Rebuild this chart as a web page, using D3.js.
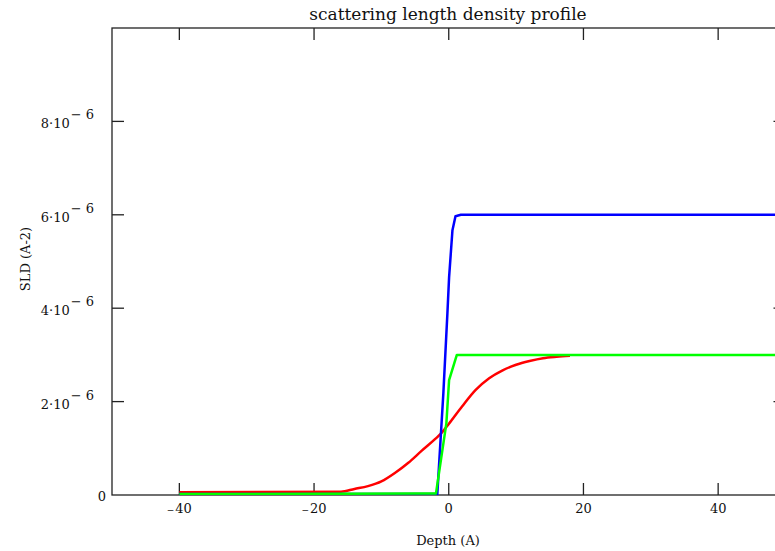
<!DOCTYPE html>
<html><head><meta charset="utf-8">
<script src="https://cdn.jsdelivr.net/npm/d3@7"></script>
<style>body{margin:0;background:#fff}svg{display:block}</style>
</head><body>
<svg id="c" width="775" height="551"></svg>
<script>
const title = "scattering length density profile";
const xLabel = "Depth (A)";
const yLabel = "SLD (A-2)";
const xTicks = [-40, -20, 0, 20, 40];
const yTicks = [0, 2e-6, 4e-6, 6e-6, 8e-6];
const yTickMant = ["0", "2", "4", "6", "8"];

const redDepth = [-40, -16, -14, -12, -10, -8, -6, -4, -2, -1, 0, 2, 4, 6, 8, 10, 12, 14, 16, 18];
const redSLD   = [0.06e-6, 0.07e-6, 0.13e-6, 0.19e-6, 0.29e-6, 0.47e-6, 0.69e-6, 0.95e-6, 1.2e-6, 1.34e-6, 1.52e-6, 1.9e-6, 2.25e-6, 2.5e-6, 2.67e-6, 2.79e-6, 2.87e-6, 2.93e-6, 2.96e-6, 2.98e-6];

const blueDepth = [-40, -1.7, -0.8, -0.2, 0.05, 0.55, 1.0, 1.8, 50];
const blueSLD   = [0.02e-6, 0.02e-6, 2.18e-6, 3.89e-6, 4.66e-6, 5.67e-6, 5.97e-6, 6.0e-6, 6.0e-6];

const greenDepth = [-40, -5, -1.9, -0.35, 0.05, 1.2, 50];
const greenSLD   = [0.02e-6, 0.03e-6, 0.03e-6, 1.54e-6, 2.46e-6, 3.0e-6, 3.0e-6];

const svg = d3.select("#c");
const L = 112, R = 785.5, T = 28, B = 495;
const x = d3.scaleLinear().domain([-50, 50]).range([L, R]);
const y = d3.scaleLinear().domain([0, 1e-5]).range([B, T]);
const font = "'DejaVu Serif', 'Liberation Serif', serif";

const g = svg.append("g");
g.append("rect").attr("x", L).attr("y", T).attr("width", R - L).attr("height", B - T)
  .attr("fill", "none").attr("stroke", "#222").attr("stroke-width", 1.3);

const tl = 12;
xTicks.forEach(v => {
  g.append("line").attr("x1", x(v)).attr("x2", x(v)).attr("y1", B).attr("y2", B - tl).attr("stroke", "#222").attr("stroke-width", 1.3);
  g.append("line").attr("x1", x(v)).attr("x2", x(v)).attr("y1", T).attr("y2", T + tl).attr("stroke", "#222").attr("stroke-width", 1.3);
});
yTicks.forEach(v => {
  if (v === 0) return;
  g.append("line").attr("x1", L).attr("x2", L + tl).attr("y1", y(v)).attr("y2", y(v)).attr("stroke", "#222").attr("stroke-width", 1.3);
  g.append("line").attr("x1", R).attr("x2", R - tl).attr("y1", y(v)).attr("y2", y(v)).attr("stroke", "#222").attr("stroke-width", 1.3);
});

xTicks.forEach(v => {
  const t = g.append("text").attr("x", x(v)).attr("y", B + 18).attr("text-anchor", "middle")
    .attr("font-family", font).attr("font-size", 13).attr("fill", "#111");
  if (v < 0) {
    t.append("tspan").text("\u2212").attr("font-size", 9);
    t.append("tspan").text(String(Math.abs(v))).attr("dx", 1);
  } else t.text(String(v));
});

yTicks.forEach((v, i) => {
  if (v === 0) {
    g.append("text").attr("x", 106).attr("y", y(v) + 6).attr("text-anchor", "end")
      .attr("font-family", font).attr("font-size", 13).attr("fill", "#111").text("0");
    return;
  }
  const t = g.append("text").attr("x", 94).attr("y", y(v) + 7).attr("text-anchor", "end")
    .attr("font-family", font).attr("font-size", 13).attr("fill", "#111");
  t.append("tspan").text(yTickMant[i] + "\u00b710");
  t.append("tspan").text("\u2212 6").attr("dy", -9).attr("font-size", 13).attr("dx", 1);
});

svg.append("clipPath").attr("id", "clip").append("rect").attr("x", L).attr("y", T).attr("width", R - L).attr("height", B - T);
const series = [
  {d: redDepth, v: redSLD, c: "#ff0000", curve: d3.curveMonotoneX},
  {d: blueDepth, v: blueSLD, c: "#0000ff", curve: d3.curveLinear},
  {d: greenDepth, v: greenSLD, c: "#00ff00", curve: d3.curveLinear}
];
series.forEach(s => {
  svg.append("path").datum(s.d.map((d, i) => [d, s.v[i]]))
    .attr("d", d3.line().x(p => x(p[0])).y(p => y(p[1])).curve(s.curve))
    .attr("fill", "none").attr("stroke", s.c).attr("stroke-width", 2.5)
    .attr("stroke-linejoin", "round").attr("clip-path", "url(#clip)");
});

svg.append("text").attr("x", 448).attr("y", 20).attr("text-anchor", "middle")
  .attr("font-family", font).attr("font-size", 17).attr("fill", "#111").text(title);
svg.append("text").attr("x", 448).attr("y", 545).attr("text-anchor", "middle")
  .attr("font-family", font).attr("font-size", 13).attr("fill", "#111").text(xLabel);
svg.append("text").attr("transform", "translate(30,259) rotate(-90)").attr("text-anchor", "middle")
  .attr("font-family", font).attr("font-size", 13).attr("fill", "#111").text(yLabel);
</script>
</body></html>
